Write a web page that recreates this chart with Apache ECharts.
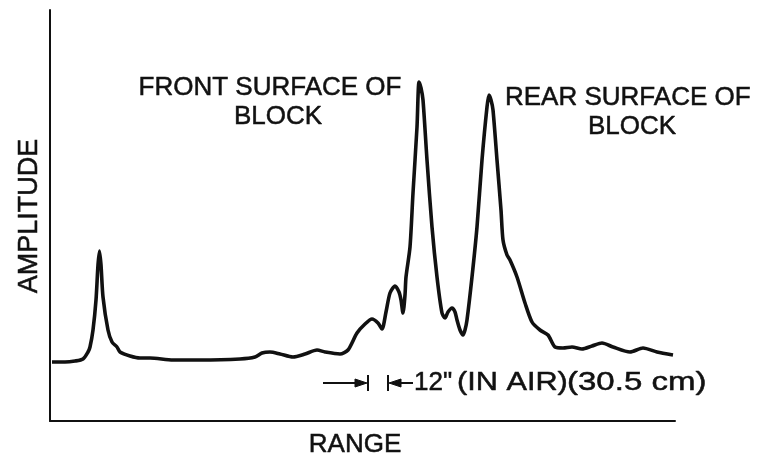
<!DOCTYPE html>
<html>
<head>
<meta charset="utf-8">
<script src="https://cdn.jsdelivr.net/npm/echarts@6/dist/echarts.min.js"></script>
<style>html,body{margin:0;padding:0;background:#fff;}#c{width:757px;height:459px;}</style>
</head>
<body>
<div id="c"></div>
<script>
// Range positions (arbitrary units along the range axis)
var rangeX = [2,15,25,33,38,40,43,46,48,49.5,51,53,58,62,67,70,80,90,100,123,150,190,205,212,220,230,243,255,267,275,290,298,307,315,322,328,332,336,340,345,349,351,353,355,356,360,363,367,369,371,373,377,382,387,392,395,398,402,405,407,410,413,415,417,422,427,432,437,439,441,443,447,451,453,457,460,467,475,482,490,498,505,513,522,532,542,552,563,580,593,607,623];
// Amplitude values (arbitrary units)
var amplitude = [59,59,60,62,69,74,91,121,156,170,156,124,91,79,74,69,65,63,63,61,61,62,64,68,69,67,64,67,71,69,67,71,88,97,102,98,92,109,128,135,129,121,108,126,144,174,228,294,339,333,321,261,194,144,108,103,109,113,109,101,91,86,91,101,144,194,261,314,326,321,311,261,211,181,166,161,144,118,99,91,86,74,73,74,72,75,78,74,69,73,69,66];
var title1 = ["FRONT SURFACE OF", "BLOCK"];
var title2 = ["REAR SURFACE OF", "BLOCK"];
var dimParts = ["12\"", "(IN AIR)", "(30.5 cm)"];
var xName = "RANGE";
var yName = "AMPLITUDE";

var FONT = '"Liberation Sans", Arial, sans-serif';
var INK = '#111';
var chart = echarts.init(document.getElementById('c'), null, {renderer: 'canvas'});
var pts = rangeX.map(function (x, i) { return [x, amplitude[i]]; });
function txt(s, x, y, align, size, rot, sx) {
  return {type: 'text', x: x, y: y, rotation: rot || 0, scaleX: sx || 1,
    style: {text: s, font: (size || 26) + 'px ' + FONT, fill: INK, stroke: INK, lineWidth: 0.5,
      align: align || 'center', verticalAlign: 'middle'}};
}
chart.setOption({
  animation: false,
  backgroundColor: '#fff',
  grid: {left: 50, right: 82, top: 10, bottom: 38},
  xAxis: {type: 'value', min: 0, max: 625,
    axisLine: {show: true, lineStyle: {color: INK, width: 2}},
    axisTick: {show: false}, axisLabel: {show: false}, splitLine: {show: false}},
  yAxis: {type: 'value', min: 0, max: 411,
    axisLine: {show: true, lineStyle: {color: INK, width: 2}},
    axisTick: {show: false}, axisLabel: {show: false}, splitLine: {show: false}},
  series: [{type: 'line', data: pts, smooth: 0.25, symbol: 'none',
    lineStyle: {color: INK, width: 3.6}}],
  graphic: [
    txt(title1[0], 270, 88), txt(title1[1], 278, 117),
    txt(title2[0], 505, 98, 'left'), txt(title2[1], 632, 127),
    txt(yName, 30, 216, 'center', 27, Math.PI / 2),
    txt(xName, 355, 445),
    txt(dimParts[0], 414, 383, 'left', 26),
    txt(dimParts[1], 457, 383, 'left', 26, 0, 1.18),
    txt(dimParts[2], 567, 383, 'left', 26, 0, 1.27),
    {type: 'line', shape: {x1: 323, y1: 383, x2: 358, y2: 383}, style: {stroke: INK, lineWidth: 2}},
    {type: 'polygon', shape: {points: [[355, 379], [367, 383], [355, 387]]}, style: {fill: INK, stroke: INK, lineWidth: 1}},
    {type: 'line', shape: {x1: 368, y1: 375, x2: 368, y2: 391}, style: {stroke: INK, lineWidth: 2}},
    {type: 'line', shape: {x1: 388, y1: 375, x2: 388, y2: 391}, style: {stroke: INK, lineWidth: 2}},
    {type: 'polygon', shape: {points: [[401, 379], [389, 383], [401, 387]]}, style: {fill: INK, stroke: INK, lineWidth: 1}},
    {type: 'line', shape: {x1: 398, y1: 383, x2: 413, y2: 383}, style: {stroke: INK, lineWidth: 2}}
  ]
});
</script>
</body>
</html>
